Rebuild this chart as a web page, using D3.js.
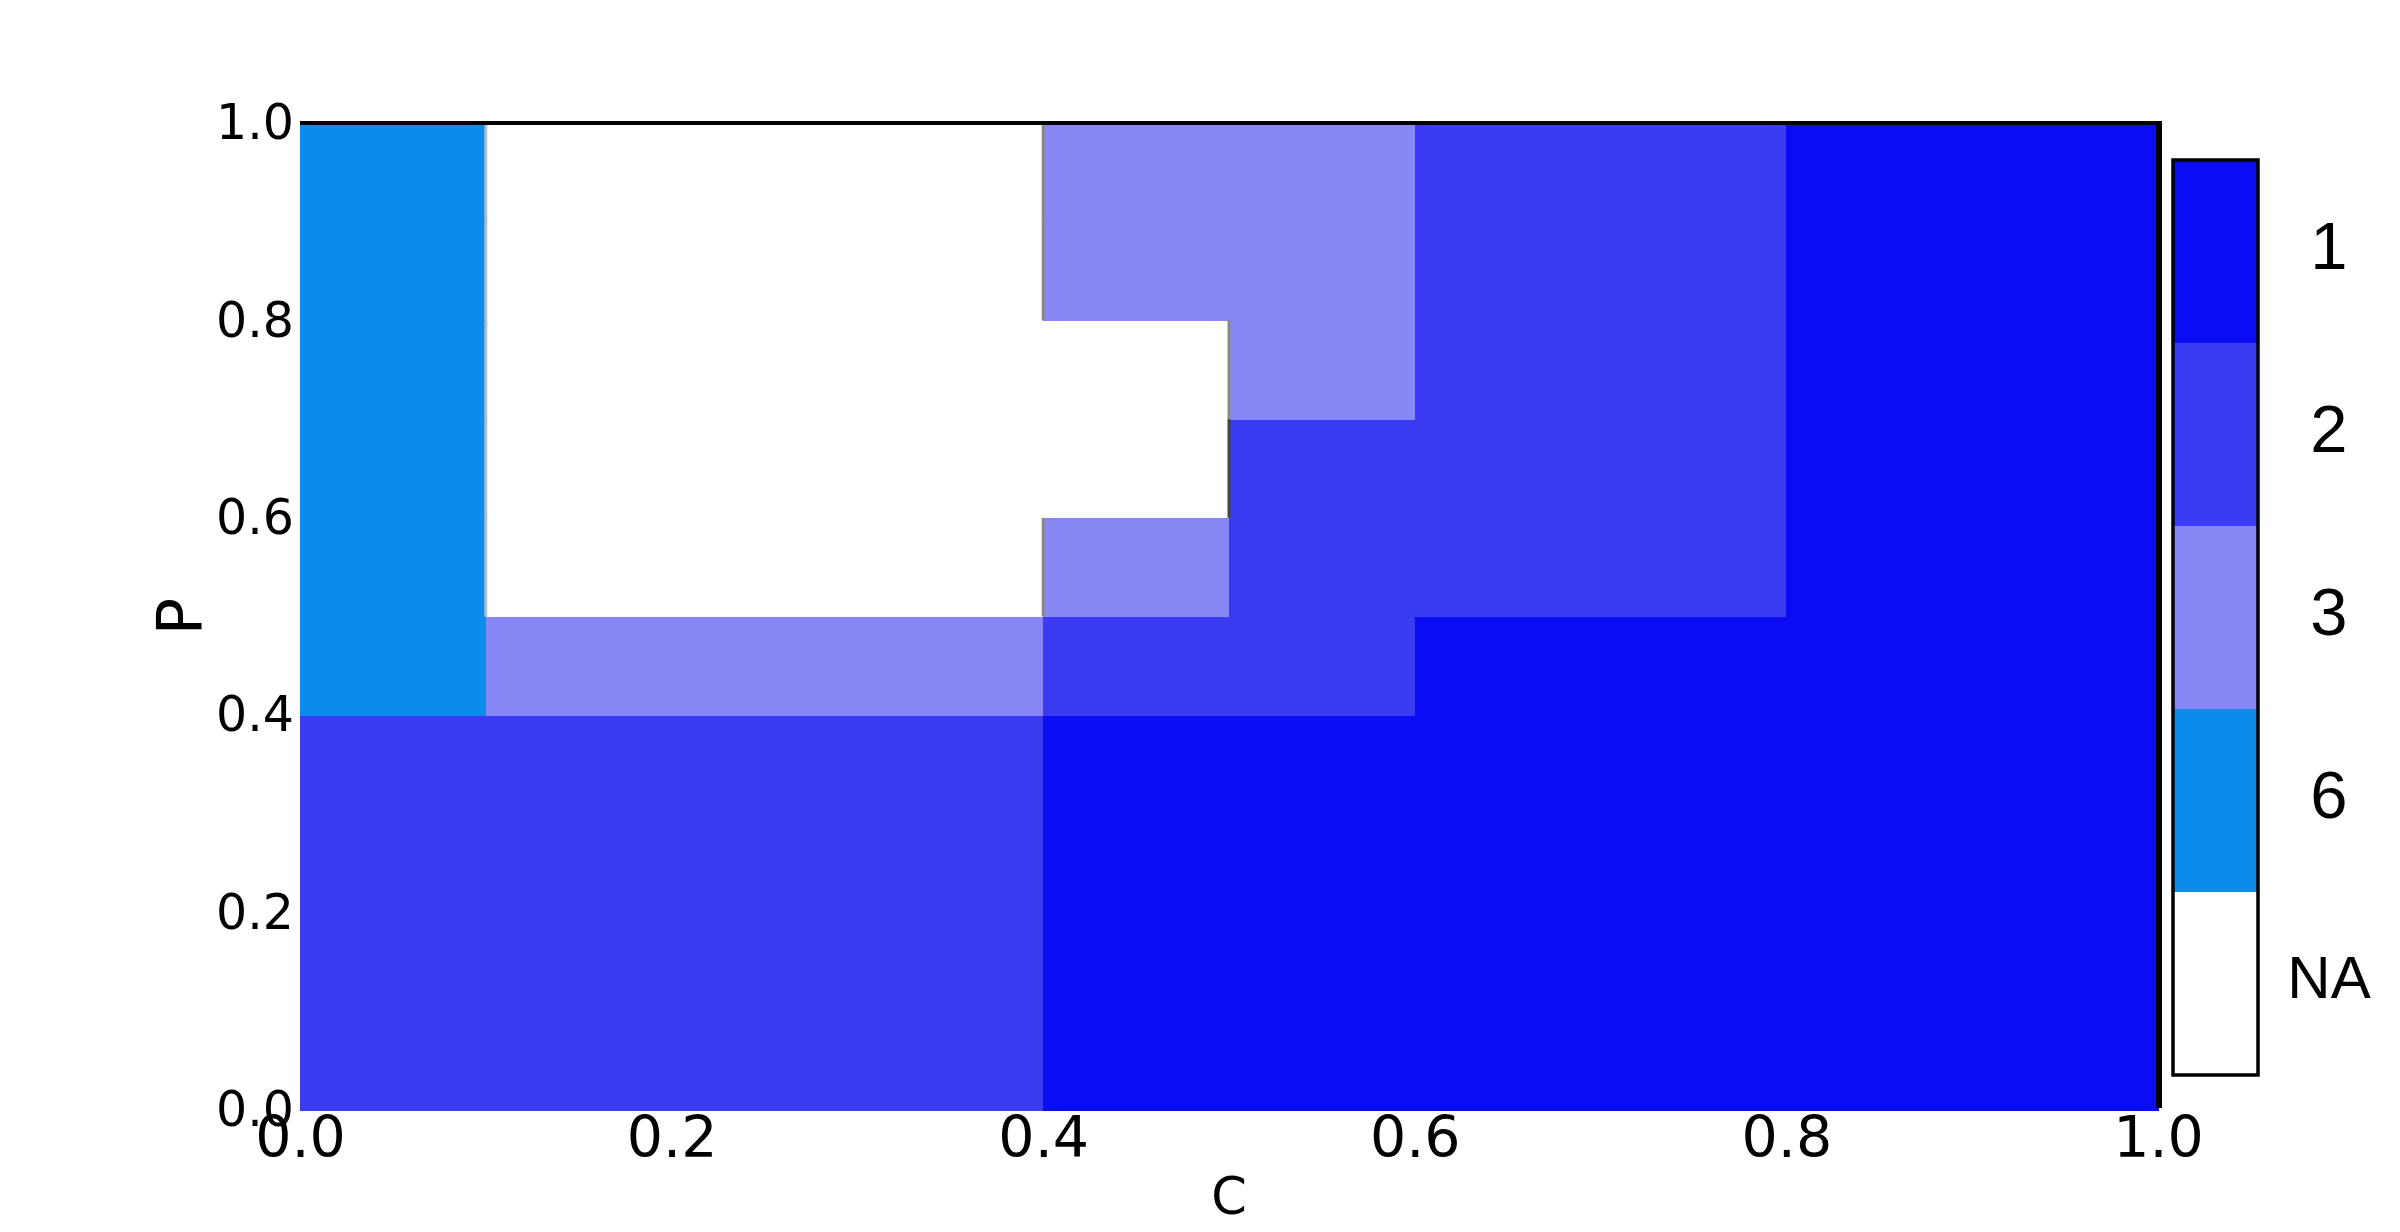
<!DOCTYPE html>
<html>
<head>
<meta charset="utf-8">
<script src="https://cdn.jsdelivr.net/npm/d3@7"></script>
<style>
  html, body { margin: 0; padding: 0; background: #fff; }
</style>
</head>
<body>
<div id="regime-map"></div>
<script>
'use strict';

// grid edges along C (x) and P (y)
var cEdges = [0.0, 0.1, 0.2, 0.3, 0.4, 0.5, 0.6, 0.7, 0.8, 0.9, 1.0];
var pEdges = [0.0, 0.1, 0.2, 0.3, 0.4, 0.5, 0.6, 0.7, 0.8, 0.9, 1.0];

// regime per cell, one row per P band (bottom to top), one entry per C band
var regimeRows = [
    ['2', '2', '2', '2', '1', '1', '1', '1', '1', '1'],
    ['2', '2', '2', '2', '1', '1', '1', '1', '1', '1'],
    ['2', '2', '2', '2', '1', '1', '1', '1', '1', '1'],
    ['2', '2', '2', '2', '1', '1', '1', '1', '1', '1'],
    ['6', '3', '3', '3', '2', '2', '1', '1', '1', '1'],
    ['6', 'NA', 'NA', 'NA', '3', '2', '2', '2', '1', '1'],
    ['6', 'NA', 'NA', 'NA', 'NA', '2', '2', '2', '1', '1'],
    ['6', 'NA', 'NA', 'NA', 'NA', '3', '2', '2', '1', '1'],
    ['6', 'NA', 'NA', 'NA', '3', '3', '2', '2', '1', '1'],
    ['6', 'NA', 'NA', 'NA', '3', '3', '2', '2', '1', '1']
];

var legendCategories = ['1', '2', '3', '6', 'NA'];
var legendColors = ['#0a0cf4', '#3b3cf2', '#8787f5', '#0b8ceb', '#ffffff'];
var tickValues = [0.0, 0.2, 0.4, 0.6, 0.8, 1.0];

var moduleRegimeMap = (function() {

    var init = function() {
        var width = 2400,
            height = 1232;

        var svg = d3.select('#regime-map').append('svg')
            .attr('width', width)
            .attr('height', height)
            .style('display', 'block');

        svg.append('rect')
            .attr('width', width)
            .attr('height', height)
            .attr('fill', '#fff');

        var x = d3.scaleLinear().domain([0, 1]).range([300, 2158]);
        var y = d3.scaleLinear().domain([0, 1]).range([1110, 123]);

        var color = d3.scaleOrdinal()
            .domain(legendCategories)
            .range(legendColors);

        var cells = [];
        regimeRows.forEach(function(row, j) {
            row.forEach(function(code, i) {
                cells.push({ i: i, j: j, code: code });
            });
        });

        svg.append('g')
            .selectAll('rect')
            .data(cells)
            .enter().append('rect')
            .attr('x', function(d) { return x(cEdges[d.i]); })
            .attr('y', function(d) { return y(pEdges[d.j + 1]); })
            .attr('width', function(d) { return x(cEdges[d.i + 1]) - x(cEdges[d.i]) + 0.6; })
            .attr('height', function(d) { return y(pEdges[d.j]) - y(pEdges[d.j + 1]) + 0.6; })
            .attr('fill', function(d) { return color(d.code); })
            .attr('shape-rendering', 'crispEdges');

        // thin grey seams where an empty cell meets a filled one
        var seamColor = { '3': '#8a8a8a', '2': '#444', '6': '#b4bccb' };
        var seams = [];
        regimeRows.forEach(function(row, j) {
            for (var i = 0; i < row.length - 1; i++) {
                var a = row[i], b = row[i + 1];
                if ((a === 'NA') !== (b === 'NA')) {
                    seams.push({ i: i + 1, j: j, code: a === 'NA' ? b : a });
                }
            }
        });

        svg.append('g')
            .selectAll('line')
            .data(seams)
            .enter().append('line')
            .attr('x1', function(d) { return x(cEdges[d.i]); })
            .attr('x2', function(d) { return x(cEdges[d.i]); })
            .attr('y1', function(d) { return y(pEdges[d.j + 1]); })
            .attr('y2', function(d) { return y(pEdges[d.j]); })
            .attr('stroke', function(d) { return seamColor[d.code] || '#888'; })
            .attr('stroke-width', 3);

        // frame: only top and right edges are drawn
        svg.append('line')
            .attr('x1', x(0)).attr('x2', x(1) + 4)
            .attr('y1', y(1)).attr('y2', y(1))
            .attr('stroke', '#000')
            .attr('stroke-width', 4);

        svg.append('line')
            .attr('x1', x(1) + 1).attr('x2', x(1) + 1)
            .attr('y1', y(1) - 2).attr('y2', y(0) - 2)
            .attr('stroke', '#000')
            .attr('stroke-width', 6);

        var xAxis = d3.axisBottom(x)
            .tickValues(tickValues)
            .tickFormat(d3.format('.1f'))
            .tickSize(0)
            .tickPadding(7);

        var yAxis = d3.axisLeft(y)
            .tickValues(tickValues)
            .tickFormat(d3.format('.1f'))
            .tickSize(0)
            .tickPadding(6);

        var gx = svg.append('g')
            .attr('transform', 'translate(0,' + y(0) + ')')
            .call(xAxis);
        gx.select('.domain').remove();
        gx.selectAll('text')
            .attr('font-family', 'DejaVu Sans')
            .attr('font-size', 57)
            .attr('fill', '#000');

        var gy = svg.append('g')
            .attr('transform', 'translate(' + x(0) + ',0)')
            .call(yAxis);
        gy.select('.domain').remove();
        gy.selectAll('text')
            .attr('font-family', 'DejaVu Sans')
            .attr('font-size', 49)
            .attr('fill', '#000');

        svg.append('text')
            .attr('x', (x(0) + x(1)) / 2)
            .attr('y', 1196)
            .attr('text-anchor', 'middle')
            .attr('dominant-baseline', 'central')
            .attr('font-family', 'DejaVu Sans')
            .attr('font-size', 51)
            .text('C');

        svg.append('text')
            .attr('transform', 'translate(179,' + y(0.5) + ') rotate(-90)')
            .attr('text-anchor', 'middle')
            .attr('dominant-baseline', 'central')
            .attr('font-family', 'DejaVu Sans')
            .attr('font-size', 62)
            .text('P');

        // legend
        var legendX = 2173,
            legendW = 85;
        var band = d3.scaleBand()
            .domain(legendCategories)
            .range([160, 1075]);

        var legend = svg.append('g');

        legend.selectAll('rect.swatch')
            .data(legendCategories)
            .enter().append('rect')
            .attr('class', 'swatch')
            .attr('x', legendX)
            .attr('y', function(d) { return band(d); })
            .attr('width', legendW)
            .attr('height', band.bandwidth() + 0.6)
            .attr('fill', function(d) { return color(d); })
            .attr('shape-rendering', 'crispEdges');

        legend.append('rect')
            .attr('x', legendX)
            .attr('y', band.range()[0])
            .attr('width', legendW)
            .attr('height', band.range()[1] - band.range()[0])
            .attr('fill', 'none')
            .attr('stroke', '#000')
            .attr('stroke-width', 3.5);

        legend.selectAll('text')
            .data(legendCategories)
            .enter().append('text')
            .attr('x', 2329)
            .attr('y', function(d) { return band(d) + band.bandwidth() / 2 - 6; })
            .attr('text-anchor', 'middle')
            .attr('dominant-baseline', 'central')
            .attr('font-family', 'Liberation Sans')
            .attr('font-size', function(d) { return d === 'NA' ? 60 : 67; })
            .attr('fill', '#000')
            .text(function(d) { return d; });
    };

    return {
        init: init
    };
})();

moduleRegimeMap.init();
</script>
</body>
</html>
